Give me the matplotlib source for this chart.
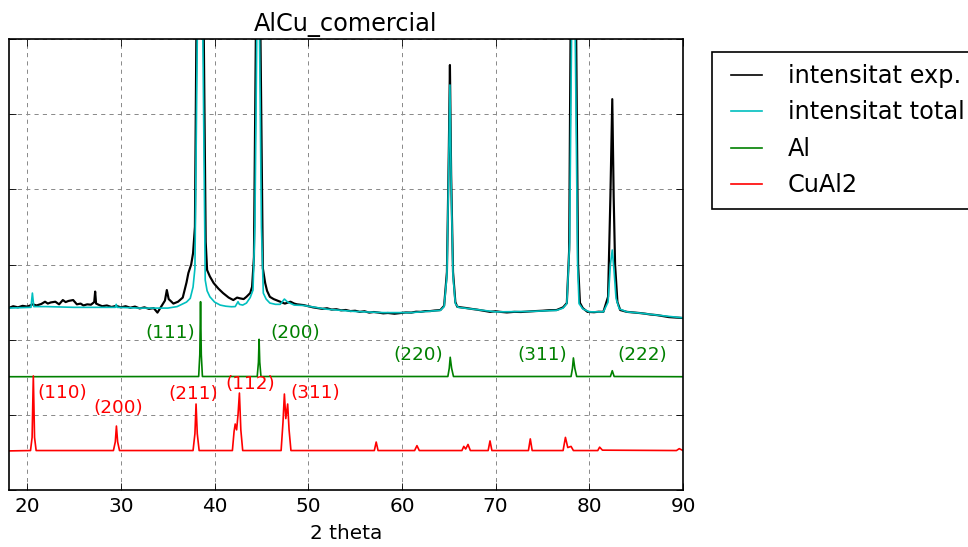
import matplotlib
matplotlib.use('Agg')
import matplotlib.pyplot as plt

plt.style.use('classic')
plt.rcParams['lines.scale_dashes'] = False
plt.rcParams['font.family'] = ['DejaVu Sans']

# Measured diffractogram (2 theta, intensity)
two_theta_exp = [18.0, 18.5, 19.0, 19.5, 20.0, 20.6, 21.0, 21.5, 21.9, 22.2, 22.5, 23.0,
                 23.4, 23.8, 24.1, 24.4, 24.9, 25.3, 25.7, 26.0, 26.4, 26.8, 27.15,
                 27.25, 27.35, 27.7, 28.0, 28.5, 29.0, 29.5, 30.0, 30.5, 31.0, 31.5,
                 32.0, 32.5, 33.0, 33.5, 33.9, 34.3, 34.7, 34.9, 35.1, 35.6, 36.1,
                 36.6, 37.0, 37.2, 37.5, 37.7, 37.9, 38.05, 38.45, 38.85, 39.05, 39.2,
                 39.5, 39.9, 40.4, 40.9, 41.5, 42.0, 42.4, 42.7, 43.1, 43.4, 43.8,
                 44.0, 44.2, 44.4, 44.65, 44.9, 45.15, 45.4, 45.6, 45.9, 46.3, 46.7,
                 47.0, 47.5, 48.1, 48.5, 48.8, 49.5, 50.0, 50.5, 51.0, 51.5, 52.0,
                 52.5, 53.0, 53.5, 54.0, 54.5, 55.0, 55.5, 56.0, 56.5, 57.0, 57.5,
                 58.0, 58.5, 59.2, 59.8, 60.4, 61.0, 61.5, 62.0, 62.5, 63.0, 63.5,
                 64.1, 64.5, 64.8, 65.0, 65.12, 65.25, 65.45, 65.7, 65.9, 66.4, 66.9,
                 67.5, 68.0, 68.7, 69.4, 70.0, 70.5, 71.2, 72.0, 72.7, 73.5, 74.2,
                 75.0, 75.7, 76.5, 77.2, 77.6, 77.85, 78.0, 78.3, 78.6, 78.8, 79.0,
                 79.3, 79.8, 80.5, 81.0, 81.5, 82.0, 82.25, 82.45, 82.6, 82.75, 83.0,
                 83.3, 84.0, 84.7, 85.4, 86.0, 86.5, 87.2, 87.8, 88.5, 89.2, 90.0]
intensity_exp = [2420, 2445, 2430, 2450, 2440, 2470, 2455, 2475, 2505, 2480, 2495, 2505,
                 2470, 2527, 2500, 2515, 2527, 2470, 2480, 2455, 2470, 2465, 2500,
                 2640, 2480, 2460, 2445, 2455, 2435, 2450, 2430, 2445, 2425, 2440,
                 2415, 2430, 2410, 2420, 2360, 2440, 2520, 2660, 2540, 2480, 2505,
                 2560, 2760, 2886, 3000, 3150, 3500, 6000, 20000, 6000, 3300, 2926,
                 2840, 2753, 2680, 2620, 2560, 2527, 2560, 2550, 2540, 2570, 2620,
                 2703, 3100, 6000, 15000, 6000, 2950, 2753, 2650, 2570, 2540, 2520,
                 2505, 2480, 2505, 2480, 2470, 2460, 2445, 2430, 2420, 2410, 2418,
                 2400, 2405, 2390, 2395, 2380, 2385, 2370, 2378, 2360, 2368, 2360,
                 2350, 2355, 2345, 2354, 2362, 2360, 2372, 2370, 2380, 2380, 2388,
                 2394, 2450, 2900, 4500, 5654, 4200, 2900, 2500, 2438, 2428, 2420,
                 2408, 2400, 2385, 2370, 2378, 2370, 2362, 2370, 2368, 2375, 2380,
                 2385, 2392, 2394, 2430, 2487, 3200, 6000, 15000, 6000, 3000, 2490,
                 2420, 2370, 2365, 2372, 2370, 2570, 3900, 5200, 3900, 3000, 2500,
                 2394, 2370, 2362, 2354, 2345, 2335, 2327, 2315, 2300, 2295, 2288]

# Fitted total intensity
two_theta_tot = [18.0, 20.4, 20.55, 20.7, 22.0, 25.0, 29.4, 29.5, 29.6, 32.0, 35.0, 36.0,
                 36.5, 37.0, 37.4, 37.7, 37.9, 38.15, 38.45, 38.75, 39.0, 39.2, 39.5,
                 40.0, 40.6, 41.2, 41.8, 42.2, 42.5, 42.65, 43.0, 43.4, 43.8, 44.1,
                 44.3, 44.5, 44.65, 44.8, 45.0, 45.2, 45.5, 45.9, 46.5, 47.0, 47.45,
                 47.8, 48.5, 49.5, 52.0, 55.0, 58.0, 61.0, 64.1, 64.5, 64.8, 65.0,
                 65.12, 65.25, 65.45, 65.7, 66.0, 67.0, 70.0, 73.5, 76.5, 77.2, 77.6,
                 77.9, 78.1, 78.3, 78.5, 78.75, 78.9, 79.3, 80.0, 81.5, 82.0, 82.25,
                 82.45, 82.65, 82.85, 83.2, 84.0, 85.4, 87.2, 90.0]
intensity_tot = [2420, 2430, 2620, 2440, 2440, 2430, 2430, 2470, 2430, 2420, 2420, 2440,
                 2470, 2500, 2550, 2700, 2950, 6000, 18000, 6000, 2793, 2650, 2570,
                 2500, 2460, 2445, 2438, 2440, 2505, 2470, 2460, 2487, 2560, 2660,
                 3500, 6000, 14000, 6000, 3500, 2620, 2540, 2487, 2470, 2470, 2540,
                 2500, 2460, 2455, 2405, 2375, 2360, 2360, 2390, 2440, 2850, 4400,
                 5388, 4100, 2850, 2480, 2430, 2415, 2370, 2375, 2390, 2420, 2480,
                 3300, 6000, 14000, 6000, 3000, 2480, 2410, 2370, 2370, 2500, 3000,
                 3193, 2900, 2550, 2410, 2370, 2354, 2327, 2290]

# Al reference pattern (offset)
two_theta_al = [18.0, 38.3, 38.42, 38.5, 38.58, 38.7, 44.55, 44.68, 44.75, 44.82, 44.95,
                64.9, 65.05, 65.15, 65.3, 65.5, 78.05, 78.2, 78.3, 78.45, 78.65,
                82.25, 82.45, 82.65, 90.0]
intensity_al = [1507, 1510, 1800, 2505, 1800, 1510, 1510, 1700, 2005, 1700, 1510,
                1510, 1620, 1766, 1620, 1510, 1510, 1620, 1757, 1620, 1510,
                1510, 1587, 1510, 1507]

# CuAl2 reference pattern (offset)
two_theta_cu = [18.0, 20.35, 20.52, 20.65, 20.78, 20.95, 29.2, 29.4, 29.52, 29.65, 29.85,
                37.7, 37.9, 38.02, 38.15, 38.35, 41.9, 42.08, 42.2, 42.35, 42.5, 42.65,
                42.8, 43.0, 47.1, 47.3, 47.45, 47.6, 47.8, 47.95, 48.15, 57.05, 57.25,
                57.45, 61.35, 61.6, 61.85, 66.4, 66.6, 66.8, 67.05, 67.3, 69.2, 69.4,
                69.6, 73.5, 73.7, 73.9, 77.2, 77.45, 77.7, 78.05, 78.3, 80.9, 81.1,
                81.4, 89.3, 89.6, 90.0]
intensity_cu = [520, 525, 700, 1517, 700, 525, 525, 640, 851, 640, 525,
                525, 750, 1144, 750, 525, 525, 780, 878, 800, 1000, 1290,
                800, 525, 525, 900, 1277, 950, 1144, 800, 525, 525, 638,
                525, 525, 590, 525, 525, 580, 545, 606, 525, 525, 653,
                525, 525, 680, 525, 525, 700, 565, 580, 525, 525, 570,
                530, 525, 550, 525]

# Miller index annotations: (text, x, y, horizontal alignment)
al_labels = [('(111)', 37.9, 2090, 'right'), ('(200)', 46.0, 2090, 'left'),
             ('(220)', 64.4, 1795, 'right'), ('(311)', 77.6, 1795, 'right'),
             ('(222)', 83.0, 1795, 'left')]
cu_labels = [('(110)', 21.1, 1290, 'left'), ('(200)', 27.05, 1090, 'left'),
             ('(211)', 35.05, 1277, 'left'), ('(112)', 41.1, 1410, 'left'),
             ('(311)', 48.05, 1290, 'left')]

W, H, DPI = 968, 547, 120
fig = plt.figure(figsize=(W / DPI, H / DPI), dpi=DPI, facecolor='white')
ax = fig.add_axes([8.5 / W, 1 - 490 / H, (683 - 8.5) / W, (490 - 39) / H])
ax.set_facecolor('white')

ax.plot(two_theta_exp, intensity_exp, color='k', lw=1.3, label='intensitat exp.')
ax.plot(two_theta_tot, intensity_tot, color='c', lw=1.0, label='intensitat total')
ax.plot(two_theta_al, intensity_al, color='g', lw=1.0, label='Al')
ax.plot(two_theta_cu, intensity_cu, color='r', lw=1.0, label='CuAl2')

for txt, x, y, ha in al_labels:
    ax.text(x, y, txt, color='g', fontsize=11, ha=ha, va='center')
for txt, x, y, ha in cu_labels:
    ax.text(x, y, txt, color='r', fontsize=11, ha=ha, va='center')

ax.set_xlim(18, 90)
ax.set_ylim(0, 6000)
ax.set_xticks(range(20, 91, 10))
ax.set_yticks(range(0, 6001, 1000))
ax.set_yticklabels([])
ax.grid(True, color='0.55', linestyle=(0, (2.5, 2.5)), linewidth=0.6)
ax.set_axisbelow(True)

ax.set_title('AlCu_comercial', fontsize=14.4)
ax.set_xlabel('2 theta', fontsize=12)

leg = ax.legend(loc='upper left', bbox_to_anchor=(712 / W, 1 - 52 / H),
                bbox_transform=fig.transFigure, borderaxespad=0, fontsize=14.4,
                handlelength=1.9, handletextpad=0.75, borderpad=0.5,
                labelspacing=0.52, frameon=True, fancybox=False)
leg.get_frame().set_edgecolor('k')
leg.get_frame().set_linewidth(1.0)
for line in leg.get_lines():
    line.set_linewidth(1.0)

fig.savefig('out.png', dpi=DPI, facecolor='white')
